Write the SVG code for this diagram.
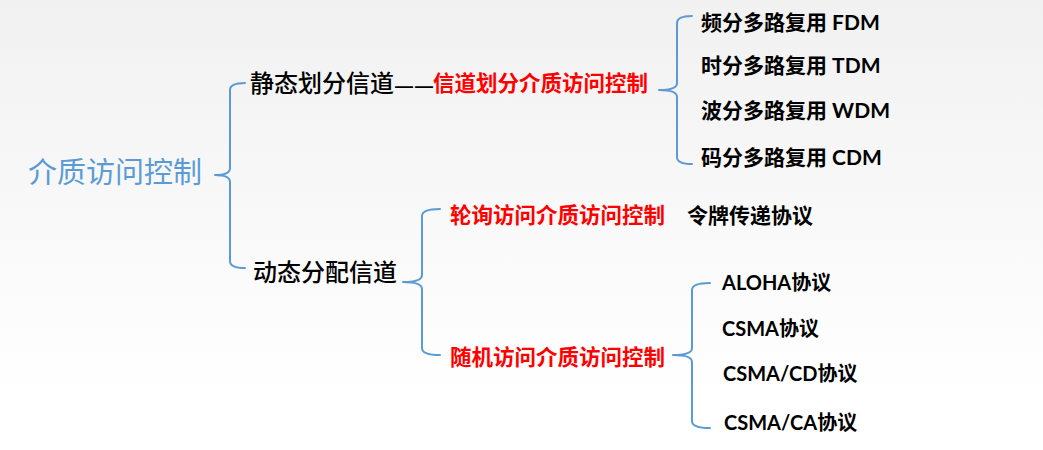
<svg xmlns="http://www.w3.org/2000/svg" width="1043" height="450" viewBox="0 0 1043 450">
<defs>
<linearGradient id="bg" x1="0" y1="0" x2="0" y2="1">
<stop offset="0" stop-color="#f1f1f1"/>
<stop offset="0.88" stop-color="#ffffff"/>
</linearGradient>
<style>
.br{fill:none;stroke:#5b9bd5;stroke-width:2;stroke-linecap:round;stroke-linejoin:round}
.t{font-family:"Lato","Noto Sans CJK SC",sans-serif}
.title{font-family:"Noto Sans CJK SC",sans-serif;font-size:29px;fill:#5b9bd5}
.l1{font-family:"Noto Sans CJK SC",sans-serif;font-size:24px;font-weight:500;fill:#000}
.dash{font-family:"Liberation Sans",sans-serif;font-size:18px;font-weight:bold;letter-spacing:2px;fill:#000}
.red{font-family:"Noto Sans CJK SC",sans-serif;font-size:21.5px;font-weight:bold;fill:#ff0000}
.it{font-size:21px;font-weight:bold;fill:#000}
.pr{font-size:20px;font-weight:bold;fill:#000}
</style>
</defs>
<rect width="1043" height="450" fill="url(#bg)"/>
<g id="connectors">
<path class="br" d="M245,83 Q230,83 230,90 L230,168 Q230,175 215,175 Q230,175 230,182 L230,261 Q230,268 245,268"/>
<path class="br" d="M692,16 Q677,16 677,23 L677,83 Q677,90 659,90 Q677,90 677,97 L677,157 Q677,164 692,164"/>
<path class="br" d="M440,209 Q422,209 422,216 L422,275 Q422,282 403,282 Q422,282 422,289 L422,348 Q422,355 440,355"/>
<path class="br" d="M710,283 Q692,283 692,290 L692,348 Q692,355 673,355 Q692,355 692,362 L692,421 Q692,428 710,428"/>
</g>
<g id="root"><text class="title" x="28" y="183">介质访问控制</text></g>
<g id="static">
<text class="l1" x="250" y="92">静态划分信道</text>
<text class="dash" x="395" y="92">——</text>
<text class="red" x="433" y="91">信道划分介质访问控制</text>
</g>
<g id="fdm"><text class="t it" x="701" y="30">频分多路复用 FDM</text></g>
<g id="tdm"><text class="t it" x="701" y="73">时分多路复用 TDM</text></g>
<g id="wdm"><text class="t it" x="701" y="118">波分多路复用 WDM</text></g>
<g id="cdm"><text class="t it" x="701" y="165">码分多路复用 CDM</text></g>
<g id="dynamic"><text class="l1" x="253" y="281">动态分配信道</text></g>
<g id="polling">
<text class="red" x="450" y="223">轮询访问介质访问控制</text>
<text class="t it" x="687" y="223">令牌传递协议</text>
</g>
<g id="random"><text class="red" x="450" y="365">随机访问介质访问控制</text></g>
<g id="aloha"><text class="t pr" x="722" y="290">ALOHA协议</text></g>
<g id="csma"><text class="t pr" x="722" y="336">CSMA协议</text></g>
<g id="csmacd"><text class="t pr" x="723" y="381">CSMA/CD协议</text></g>
<g id="csmaca"><text class="t pr" x="724" y="430">CSMA/CA协议</text></g>
</svg>
